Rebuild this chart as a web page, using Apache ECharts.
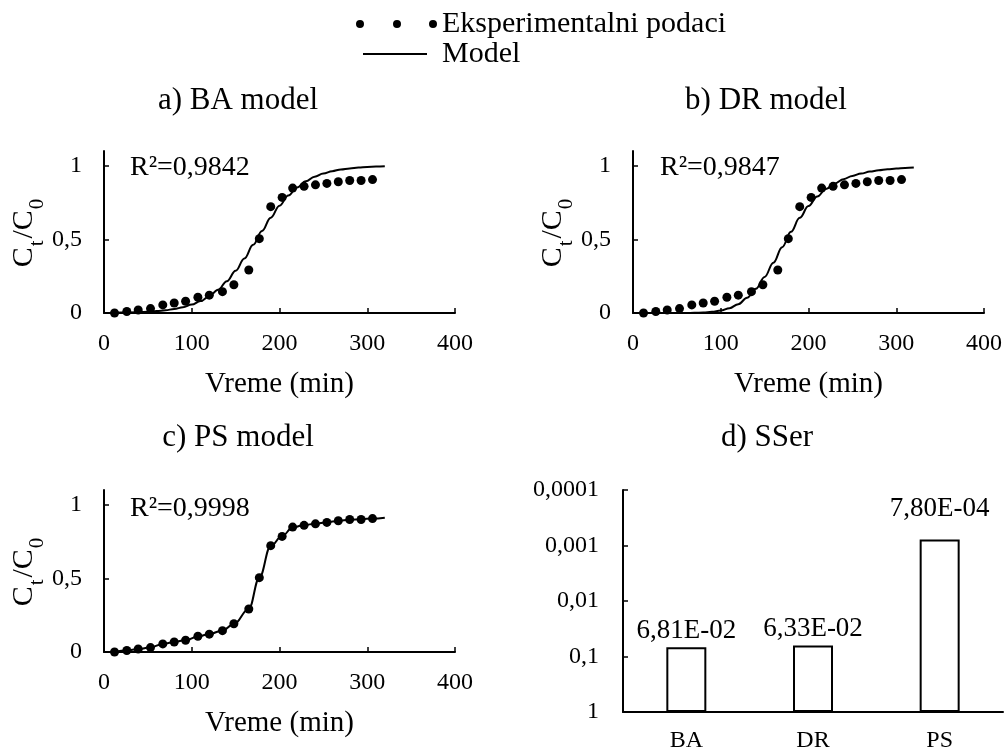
<!DOCTYPE html>
<html>
<head>
<meta charset="utf-8">
<script src="https://cdn.jsdelivr.net/npm/echarts@6/dist/echarts.min.js"></script>
<style>html,body{margin:0;padding:0;background:#fff}#c{width:1006px;height:751px}</style>
</head>
<body>
<div id="c"></div>
<script>
// ---- data ----
const times = [12, 26, 39, 53, 67, 80, 93, 107, 120, 135, 148, 165, 177, 190, 203, 215, 228, 241, 254, 267, 280, 293, 306];
const expValues = [0, 0.01, 0.02, 0.03, 0.055, 0.068, 0.08, 0.107, 0.121, 0.145, 0.192, 0.292, 0.505, 0.722, 0.785, 0.848, 0.86, 0.87, 0.88, 0.891, 0.9, 0.9, 0.906];
const modelTimes = [10, 20, 30, 40, 50, 60, 70, 80, 90, 100, 110, 120, 130, 140, 150, 160, 170, 180, 190, 200, 210, 220, 230, 240, 250, 260, 270, 280, 290, 300, 310, 320];
const baModel = [0.002, 0.003, 0.004, 0.006, 0.009, 0.013, 0.019, 0.027, 0.039, 0.057, 0.081, 0.114, 0.158, 0.216, 0.287, 0.37, 0.463, 0.557, 0.647, 0.729, 0.797, 0.852, 0.894, 0.925, 0.947, 0.963, 0.975, 0.982, 0.988, 0.992, 0.994, 0.996];
const drModel = [0, 0, 0, 0, 0.0001, 0.0004, 0.0012, 0.0033, 0.0077, 0.0165, 0.033, 0.06, 0.103, 0.164, 0.245, 0.342, 0.447, 0.551, 0.646, 0.726, 0.791, 0.842, 0.88, 0.909, 0.931, 0.947, 0.96, 0.969, 0.976, 0.981, 0.985, 0.988];
const psTimes = [12, 26, 39, 53, 67, 80, 93, 107, 120, 135, 148, 165, 177, 190, 203, 215, 228, 241, 254, 267, 280, 293, 306, 320];
const psModel = [0, 0.01, 0.02, 0.032, 0.055, 0.068, 0.081, 0.105, 0.122, 0.146, 0.19, 0.292, 0.505, 0.72, 0.788, 0.845, 0.862, 0.871, 0.881, 0.89, 0.898, 0.902, 0.906, 0.912];
const sseCategories = ['BA', 'DR', 'PS'];
const sseValues = [0.0681, 0.0633, 0.00078];
const xTicks = [0, 100, 200, 300, 400];
const yTicks = [0, 0.5, 1];
const panelTitles = ['a) BA model', 'b) DR model', 'c) PS model', 'd) SSer'];
const r2Labels = ['R\u00b2=0,9842', 'R\u00b2=0,9847', 'R\u00b2=0,9998'];
const legendNames = ['Eksperimentalni podaci', 'Model'];

// ---- chart ----
const FF = 'Liberation Serif';
const FS_TICK = 24;      // tick labels
const FS_NAME = 29;      // axis names
const FS_TITLE = 31;     // panel titles
const FS_LEG = 30;       // legend
const FS_R2 = 28;        // R² annotations
const FS_BAR = 27;       // bar value labels
const BLACK = '#000';
const chart = echarts.init(document.getElementById('c'), null, {renderer: 'canvas'});

const pair = (xs, ys) => xs.map((x, i) => [x, ys[i]]);
const comma = s => String(s).replace('.', ',');
function sci(v) {
  const e = Math.floor(Math.log10(v) + 1e-9);
  const m = v / Math.pow(10, e);
  return m.toFixed(2).replace('.', ',') + 'E' + (e < 0 ? '-' : '+') + String(Math.abs(e)).padStart(2, '0');
}

const grids = [
  {left: 104, top: 151, width: 351, height: 162, outerBoundsMode: 'none', containLabel: false},
  {left: 633, top: 151, width: 351, height: 162, outerBoundsMode: 'none', containLabel: false},
  {left: 104, top: 490, width: 351, height: 162, outerBoundsMode: 'none', containLabel: false},
  {left: 623, top: 490, width: 380, height: 222, outerBoundsMode: 'none', containLabel: false}
];

const axisLine = {show: true, onZero: false, lineStyle: {color: BLACK, width: 2}};
const tickStyle = {show: true, inside: true, length: 5, lineStyle: {color: BLACK, width: 1.5}};
const labelStyle = {color: BLACK, fontFamily: FF, fontSize: FS_TICK};

const xAxes = [0, 1, 2].map(i => ({
  type: 'value', gridIndex: i, min: xTicks[0], max: xTicks[xTicks.length - 1], interval: 100,
  axisLine, axisTick: tickStyle, splitLine: {show: false},
  axisLabel: Object.assign({margin: 19}, labelStyle),
  name: 'Vreme (min)', nameLocation: 'middle', nameGap: 57,
  nameTextStyle: {color: BLACK, fontFamily: FF, fontSize: FS_NAME}
}));
xAxes.push({
  type: 'category', gridIndex: 3, data: sseCategories,
  axisLine, axisTick: {show: false}, splitLine: {show: false},
  axisLabel: Object.assign({margin: 17}, labelStyle)
});

const yName = '{m|C}{s|t}{m|/C}{s|0}';
const yNameStyle = {
  color: BLACK, fontFamily: FF, fontSize: 30,
  rich: {
    m: {fontFamily: FF, fontSize: 30, color: BLACK, padding: [0, 1, 9, 0]},
    s: {fontFamily: FF, fontSize: 21, color: BLACK, verticalAlign: 'bottom', padding: [0, 2, 0, 0]}
  }
};
const yAxes = [0, 1, 2].map(i => ({
  type: 'value', gridIndex: i, min: 0, max: 1.1,
  axisLine, splitLine: {show: false},
  axisTick: Object.assign({customValues: yTicks}, tickStyle),
  axisLabel: Object.assign({margin: 22, customValues: yTicks, formatter: v => comma(v)}, labelStyle),
  name: yName, nameLocation: 'middle', nameGap: 50, nameRotate: 90,
  nameTextStyle: yNameStyle
}));
yAxes.push({
  type: 'log', gridIndex: 3, logBase: 10, min: 0.0001, max: 1, inverse: true,
  axisLine, axisTick: tickStyle, splitLine: {show: false},
  axisLabel: Object.assign({
    margin: 24,
    formatter: v => {
      const e = Math.round(Math.log10(v));
      return e === 0 ? '1' : '0,' + '0'.repeat(-e - 1) + '1';
    }
  }, labelStyle)
});

const series = [];
const models = [pair(modelTimes, baModel), pair(modelTimes, drModel), pair(psTimes, psModel)];
[0, 1, 2].forEach(i => {
  series.push({
    type: 'line', name: legendNames[1], xAxisIndex: i, yAxisIndex: i,
    data: models[i], showSymbol: false, symbol: 'none', smooth: 0.4, smoothMonotone: 'x',
    lineStyle: {color: BLACK, width: 2}, itemStyle: {color: BLACK}, z: 3, animation: false
  });
  series.push({
    type: 'scatter', name: legendNames[0], xAxisIndex: i, yAxisIndex: i,
    data: pair(times, expValues), symbol: 'circle', symbolSize: 9,
    itemStyle: {color: BLACK, opacity: 1}, z: 4, animation: false, clip: false
  });
});
const labelDist = [3, 3, 17];
series.push({
  type: 'bar', name: 'SSer', xAxisIndex: 3, yAxisIndex: 3, barWidth: 40,
  data: sseValues.map((v, i) => ({value: v, label: {distance: labelDist[i]}})),
  itemStyle: {color: '#fff', borderColor: BLACK, borderWidth: 2},
  label: {show: true, position: 'top', color: BLACK, fontFamily: FF, fontSize: FS_BAR, formatter: p => sci(p.value)},
  animation: false
});

const dotsIcon = 'path://M0,4a4,4 0 1,0 8,0a4,4 0 1,0 -8,0z M37,4a4,4 0 1,0 8,0a4,4 0 1,0 -8,0z M73,4a4,4 0 1,0 8,0a4,4 0 1,0 -8,0z';
const legends = [
  {left: 351, top: 4, itemWidth: 81, itemHeight: 8, data: [{name: legendNames[0], icon: dotsIcon}],
   itemStyle: {color: BLACK, opacity: 1},
   textStyle: {color: BLACK, fontFamily: FF, fontSize: FS_LEG, padding: [0, 0, 0, 0]}, selectedMode: false},
  {left: 358, top: 34, itemWidth: 64, itemHeight: 2, data: [{name: legendNames[1], icon: 'rect'}],
   textStyle: {color: BLACK, fontFamily: FF, fontSize: FS_LEG, padding: [0, 0, 0, 10]}, selectedMode: false,
   itemStyle: {color: BLACK}}
];

const txt = (text, x, y, fs, align) => ({
  type: 'text', x, y,
  style: {text, fill: BLACK, fontFamily: FF, fontSize: fs, align: align || 'center', verticalAlign: 'middle'}
});
const graphic = [
  txt(panelTitles[0], 238, 101, FS_TITLE), txt(panelTitles[1], 766, 101, FS_TITLE),
  txt(panelTitles[2], 238, 438, FS_TITLE), txt(panelTitles[3], 767, 438, FS_TITLE),
  txt(r2Labels[0], 130, 168, FS_R2, 'left'), txt(r2Labels[1], 660, 168, FS_R2, 'left'), txt(r2Labels[2], 130, 509, FS_R2, 'left')
];

chart.setOption({
  backgroundColor: '#fff',
  animation: false,
  grid: grids,
  xAxis: xAxes,
  yAxis: yAxes,
  legend: legends,
  series,
  graphic
});
</script>
</body>
</html>
